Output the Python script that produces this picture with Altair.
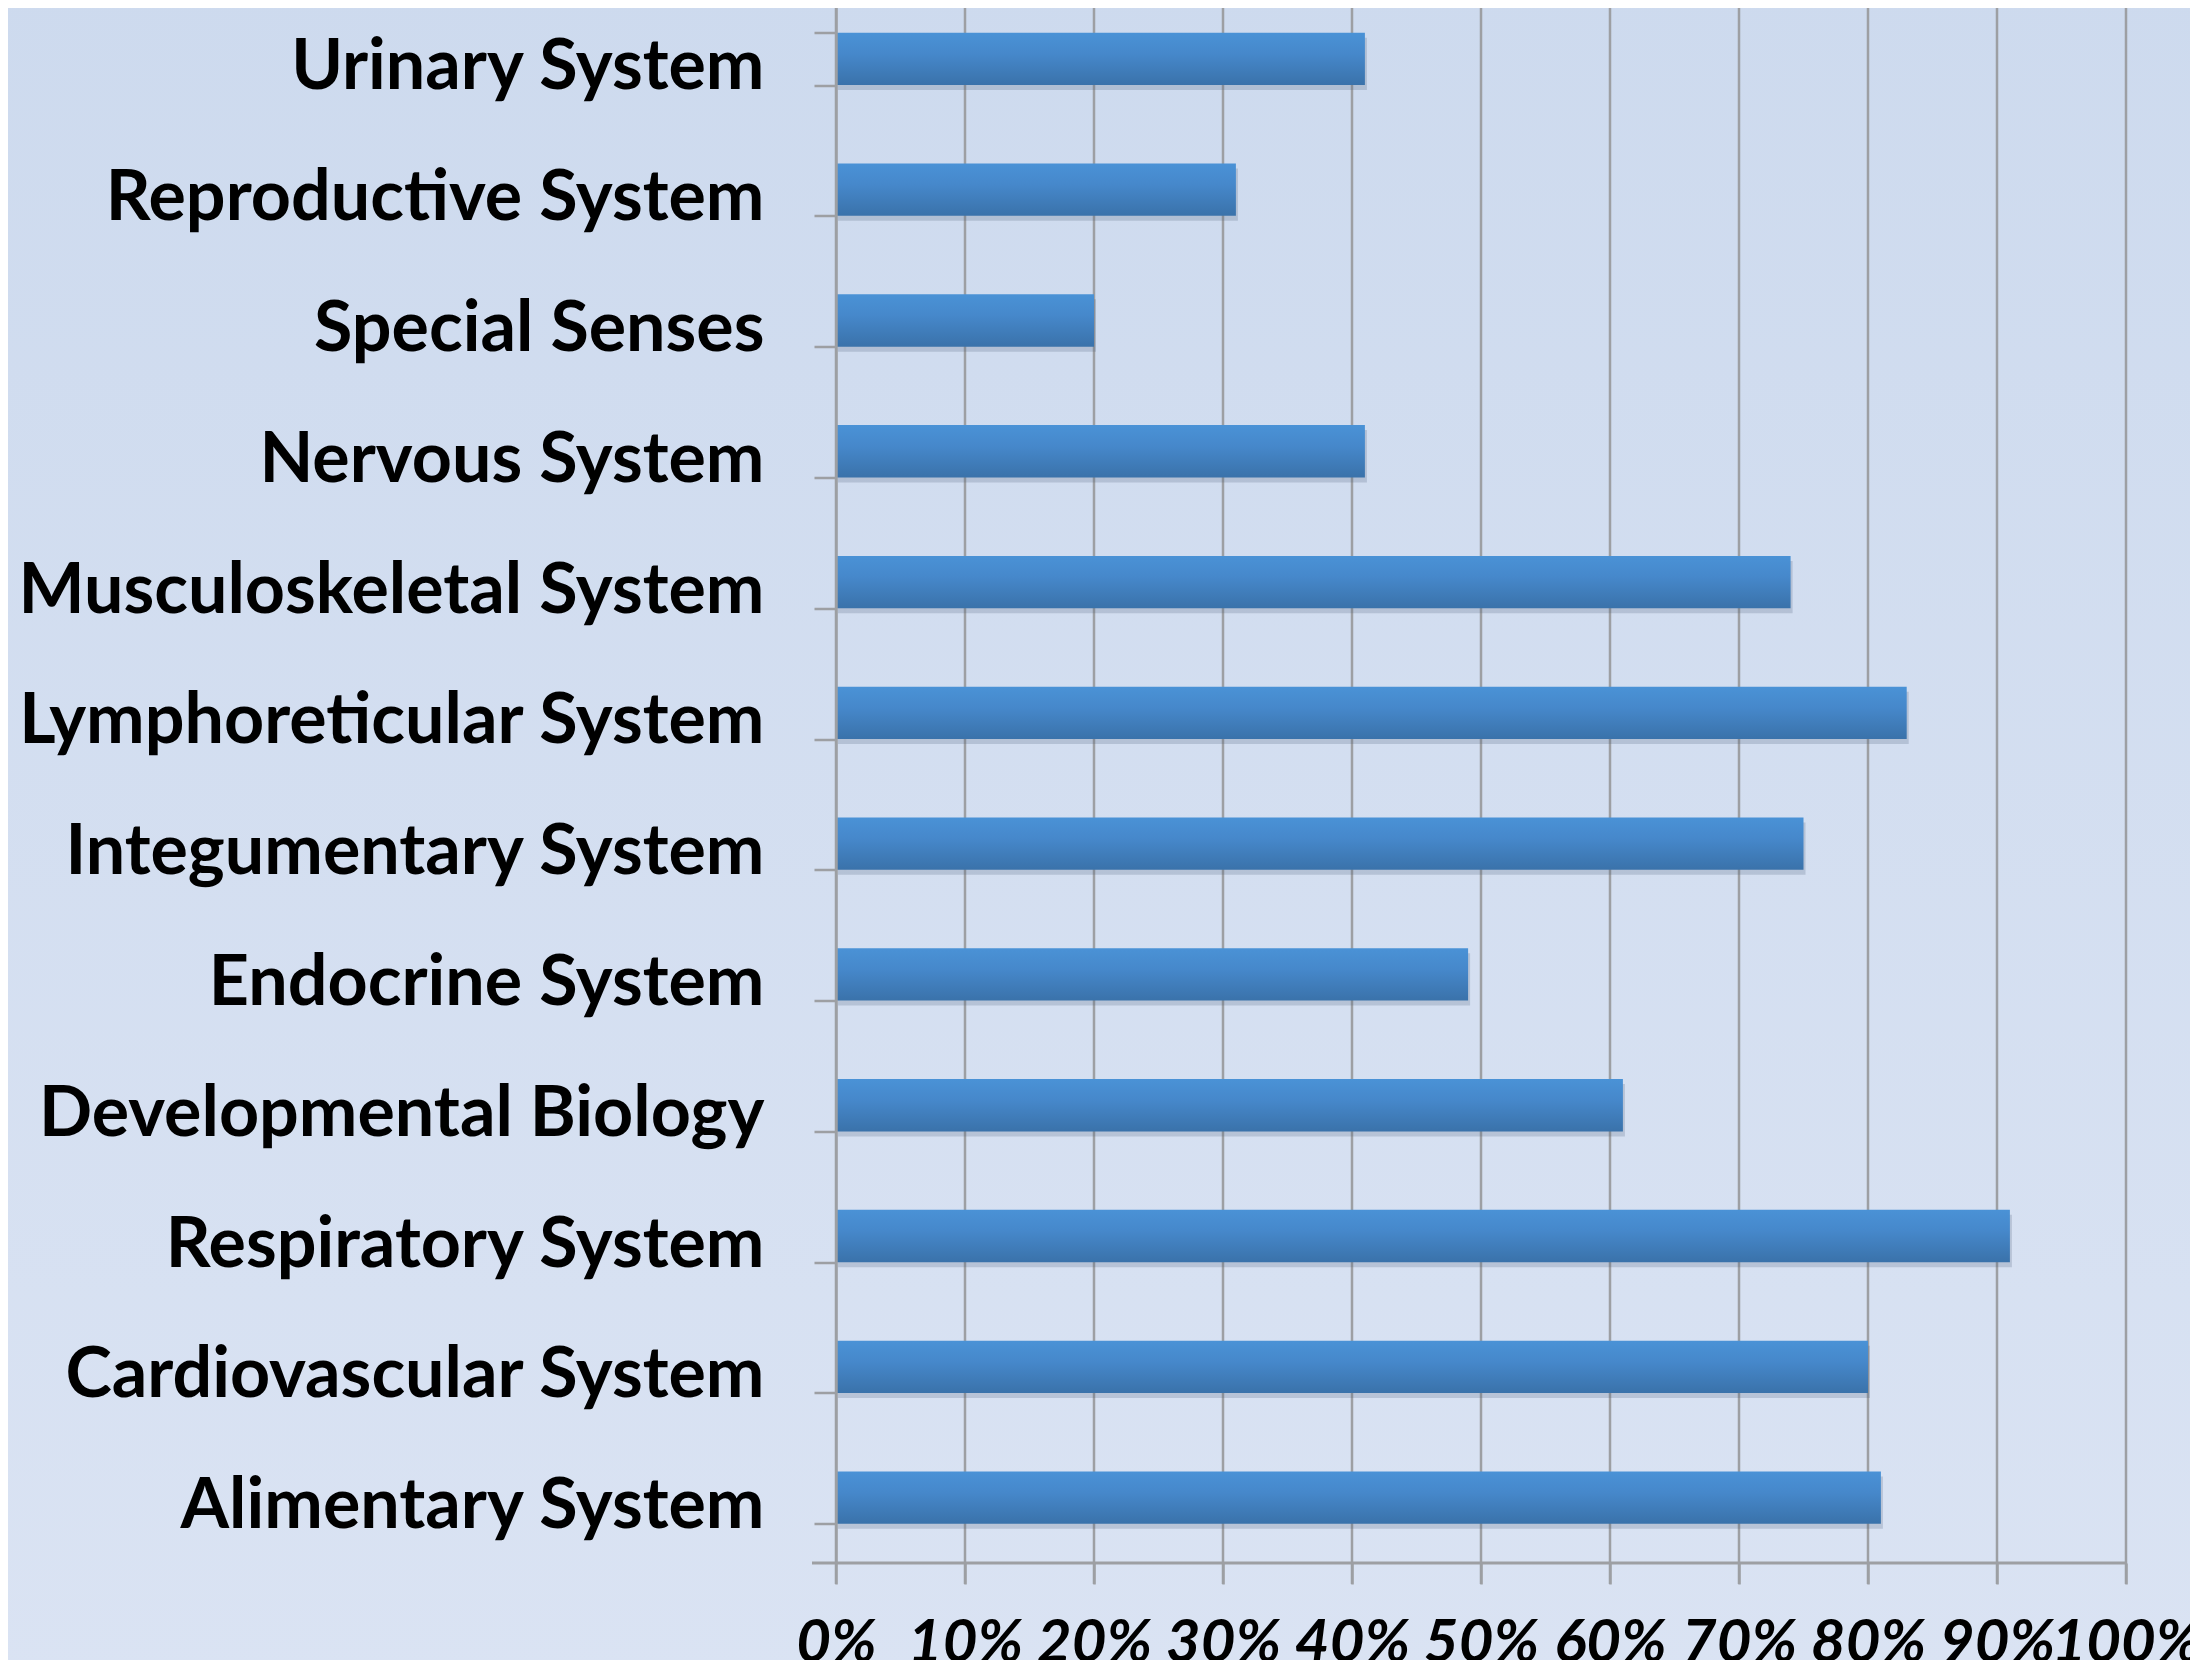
import altair as alt
import pandas as pd

categories = [
    "Urinary System", "Reproductive System", "Special Senses", "Nervous System",
    "Musculoskeletal System", "Lymphoreticular System", "Integumentary System",
    "Endocrine System", "Developmental Biology", "Respiratory System",
    "Cardiovascular System", "Alimentary System",
]
values = [41, 31, 20, 41, 74, 83, 75, 49, 61, 91, 80, 81]
tick_values = [0, 10, 20, 30, 40, 50, 60, 70, 80, 90, 100]

W = 1290
H = 1569.5

df = pd.DataFrame({"cat": categories, "val": values})
grid_df = pd.DataFrame({"t": tick_values})
one = pd.DataFrame({"a": [0]})

GRAY = "#9d9fa3"

yenc = alt.Y("cat:N", sort=categories, title=None,
             scale=alt.Scale(paddingInner=0.6, paddingOuter=0.3),
             axis=alt.Axis(labelFont="Lato", labelFontWeight="bold", labelFontSize=70,
                           labelColor="black", labelPadding=50, tickSize=22,
                           labelOffset=9,
                           tickColor=GRAY, tickWidth=2.5, domainColor=GRAY,
                           domainWidth=2.5, tickBand="extent", labelLimit=1000,
                           zindex=1))
xscale = alt.Scale(domain=[0, 100], nice=False)

bg = alt.Chart(one).mark_rect(
    color=alt.Gradient(gradient="linear", x1=0, x2=0, y1=0, y2=1,
                       stops=[alt.GradientStop(color="#cddaee", offset=0),
                              alt.GradientStop(color="#dae3f3", offset=1)])
).encode(x=alt.value(-840), x2=alt.value(W + 80), y=alt.value(-20), y2=alt.value(H + 120))

grid = alt.Chart(grid_df).mark_rule(color=GRAY, strokeWidth=2.5).encode(
    x=alt.X("t:Q", scale=xscale),
    y=alt.value(-20), y2=alt.value(H + 21),
)

baseline = alt.Chart(one).mark_rule(color=GRAY, strokeWidth=3).encode(
    x=alt.value(-24), x2=alt.value(W), y=alt.value(H)
)

shadow = alt.Chart(df).mark_bar(color="#4a5a78", opacity=0.22, yOffset=5, xOffset=2).encode(
    x=alt.X("val:Q", scale=xscale),
    y=yenc,
)

bars = alt.Chart(df).mark_bar(
    color=alt.Gradient(gradient="linear", x1=0, x2=0, y1=0, y2=1,
                       stops=[alt.GradientStop(color="#4a92d6", offset=0),
                              alt.GradientStop(color="#4688cb", offset=0.4),
                              alt.GradientStop(color="#3a72aa", offset=1)])
).encode(
    x=alt.X("val:Q", scale=xscale, title=None,
            axis=alt.Axis(values=tick_values, labelExpr="datum.value + '%'",
                          labelFont="Lato", labelFontWeight="bold", labelFontStyle="italic",
                          labelFontSize=60, labelColor="black", labelPadding=30,
                          tickSize=21, tickColor=GRAY, tickWidth=2.5, domain=False,
                          grid=False, labelFlush=False, labelOverlap=False, zindex=1)),
    y=yenc,
)

chart = alt.layer(bg, grid, baseline, shadow, bars).properties(
    width=W, height=H,
    autosize=alt.AutoSizeParams(type="none"),
    padding={"left": 828, "top": -14.5, "right": 64, "bottom": 97},
    background="#d4dff1",
).configure_view(stroke=None)

chart.save("out.html", embed_options={"renderer": "svg", "actions": False})
